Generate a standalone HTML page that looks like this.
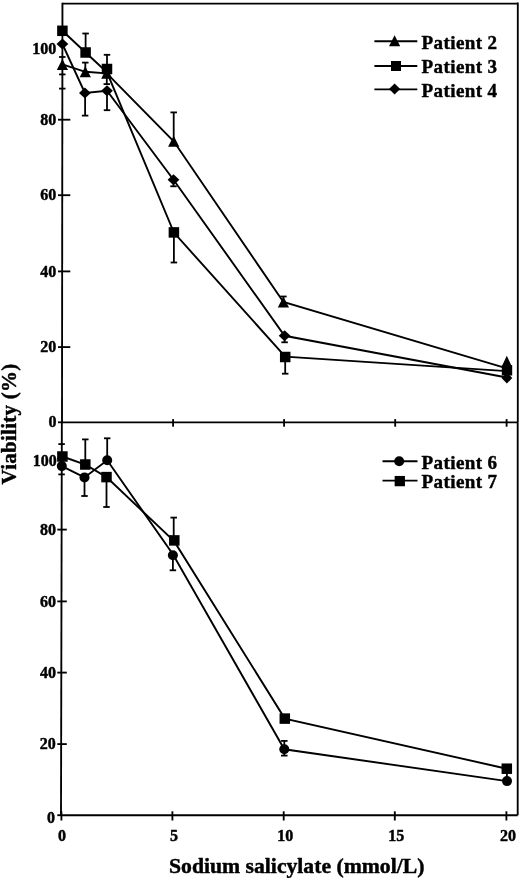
<!DOCTYPE html>
<html><head><meta charset="utf-8"><title>Viability chart</title>
<style>
html,body{margin:0;padding:0;background:#fff;}
body{width:520px;height:880px;overflow:hidden;}
svg{display:block;filter:grayscale(1) blur(0.3px);}
text{font-family:"Liberation Serif", serif;font-weight:bold;fill:#000;stroke:#000;stroke-width:0.45px;stroke-linejoin:round;}
</style></head>
<body>
<svg width="520" height="880" viewBox="0 0 520 880">
<g stroke="#000" fill="#000" stroke-linecap="butt">
<line x1="62.3" y1="3.6" x2="517.8" y2="3.6" stroke-width="1.85"/>
<line x1="62.45" y1="2.7" x2="62.0" y2="423.3" stroke-width="1.85"/>
<line x1="517.8" y1="2.6" x2="517.8" y2="422.3" stroke-width="1.85"/>
<line x1="62.3" y1="422.3" x2="517.8" y2="422.3" stroke-width="1.85"/>
<line x1="58.0" y1="422.3" x2="62.3" y2="422.3" stroke-width="1.85"/>
<line x1="58.0" y1="347.1" x2="70.3" y2="347.1" stroke-width="1.85"/>
<line x1="58.0" y1="271.4" x2="70.3" y2="271.4" stroke-width="1.85"/>
<line x1="58.0" y1="195.2" x2="70.3" y2="195.2" stroke-width="1.85"/>
<line x1="58.0" y1="119.7" x2="70.3" y2="119.7" stroke-width="1.85"/>
<line x1="173.1" y1="419.1" x2="173.1" y2="426.7" stroke-width="1.85"/>
<line x1="284.1" y1="419.1" x2="284.1" y2="426.7" stroke-width="1.85"/>
<line x1="395.2" y1="419.1" x2="395.2" y2="426.7" stroke-width="1.85"/>
<line x1="506.6" y1="419.1" x2="506.6" y2="426.7" stroke-width="1.85"/>
<polyline points="62.4,30.8 85.6,52.5 107.0,72.3 173.9,232.6 285.2,356.6 506.8,371.1" fill="none" stroke-width="1.9"/>
<polyline points="62.4,64.4 85.3,71.8 106.8,73.3 173.7,141.3 283.4,302.0 506.8,368.3" fill="none" stroke-width="1.9"/>
<polyline points="62.4,44.0 84.9,92.9 107.0,90.7 173.5,179.7 284.6,335.8 506.8,377.5" fill="none" stroke-width="1.9"/>
<line x1="85.6" y1="52.5" x2="85.6" y2="33.5" stroke-width="1.8"/>
<line x1="82.35" y1="33.5" x2="88.85" y2="33.5" stroke-width="1.8"/>
<line x1="107.0" y1="69.0" x2="107.0" y2="54.8" stroke-width="1.8"/>
<line x1="103.75" y1="54.8" x2="110.25" y2="54.8" stroke-width="1.8"/>
<line x1="173.9" y1="232.4" x2="173.9" y2="262.5" stroke-width="1.8"/>
<line x1="170.65" y1="262.5" x2="177.15" y2="262.5" stroke-width="1.8"/>
<line x1="285.2" y1="357.0" x2="285.2" y2="373.7" stroke-width="1.8"/>
<line x1="281.95" y1="373.7" x2="288.45" y2="373.7" stroke-width="1.8"/>
<line x1="85.3" y1="71.8" x2="85.3" y2="62.6" stroke-width="1.8"/>
<line x1="82.05" y1="62.6" x2="88.55" y2="62.6" stroke-width="1.8"/>
<line x1="106.8" y1="73.3" x2="106.8" y2="84.1" stroke-width="1.8"/>
<line x1="103.55" y1="84.1" x2="110.05" y2="84.1" stroke-width="1.8"/>
<line x1="173.7" y1="141.3" x2="173.7" y2="112.4" stroke-width="1.8"/>
<line x1="170.45" y1="112.4" x2="176.95" y2="112.4" stroke-width="1.8"/>
<line x1="283.4" y1="302.2" x2="283.4" y2="296.5" stroke-width="1.8"/>
<line x1="280.15" y1="296.5" x2="286.65" y2="296.5" stroke-width="1.8"/>
<line x1="85.1" y1="92.9" x2="85.1" y2="115.6" stroke-width="1.8"/>
<line x1="81.85" y1="115.6" x2="88.35" y2="115.6" stroke-width="1.8"/>
<line x1="107.0" y1="90.7" x2="107.0" y2="110.2" stroke-width="1.8"/>
<line x1="103.75" y1="110.2" x2="110.25" y2="110.2" stroke-width="1.8"/>
<line x1="173.5" y1="179.7" x2="173.5" y2="186.3" stroke-width="1.8"/>
<line x1="170.25" y1="186.3" x2="176.75" y2="186.3" stroke-width="1.8"/>
<line x1="284.6" y1="335.4" x2="284.6" y2="342.3" stroke-width="1.8"/>
<line x1="281.35" y1="342.3" x2="287.85" y2="342.3" stroke-width="1.8"/>
<line x1="59.05" y1="57.0" x2="65.55" y2="57.0" stroke-width="1.8"/>
<line x1="59.05" y1="74.4" x2="65.55" y2="74.4" stroke-width="1.8"/>
<line x1="59.05" y1="88.6" x2="65.55" y2="88.6" stroke-width="1.8"/>
<rect x="57.15" y="25.55" width="10.5" height="10.5" stroke="none"/>
<rect x="80.35" y="47.25" width="10.5" height="10.5" stroke="none"/>
<rect x="101.75" y="63.75" width="10.5" height="10.5" stroke="none"/>
<rect x="168.65" y="227.15" width="10.5" height="10.5" stroke="none"/>
<rect x="279.95" y="351.75" width="10.5" height="10.5" stroke="none"/>
<polygon points="62.40,58.90 68.00,69.90 56.80,69.90" stroke="none"/>
<polygon points="85.30,66.30 90.90,77.30 79.70,77.30" stroke="none"/>
<polygon points="106.80,67.80 112.40,78.80 101.20,78.80" stroke="none"/>
<polygon points="173.70,135.80 179.30,146.80 168.10,146.80" stroke="none"/>
<polygon points="283.40,296.50 289.00,307.50 277.80,307.50" stroke="none"/>
<polygon points="62.40,38.50 68.30,44.00 62.40,49.50 56.50,44.00" stroke="none"/>
<polygon points="84.90,87.40 90.80,92.90 84.90,98.40 79.00,92.90" stroke="none"/>
<polygon points="107.00,85.20 112.90,90.70 107.00,96.20 101.10,90.70" stroke="none"/>
<polygon points="173.50,174.20 179.40,179.70 173.50,185.20 167.60,179.70" stroke="none"/>
<polygon points="284.60,330.30 290.50,335.80 284.60,341.30 278.70,335.80" stroke="none"/>
<polygon points="506.80,355.80 512.10,367.00 501.50,367.00" stroke="none"/>
<rect x="501.80" y="365.10" width="10.4" height="10.4" stroke="none"/>
<polygon points="506.90,372.50 512.30,378.00 506.90,383.50 501.50,378.00" stroke="none"/>
<line x1="374.4" y1="41.2" x2="417.3" y2="41.2" stroke-width="1.9"/>
<polygon points="394.60,35.25 400.20,46.15 389.00,46.15" stroke="none"/>
<line x1="374.4" y1="66.0" x2="417.3" y2="66.0" stroke-width="1.9"/>
<rect x="391.00" y="61.00" width="10.0" height="10.0" stroke="none"/>
<line x1="374.4" y1="89.4" x2="417.3" y2="89.4" stroke-width="1.9"/>
<polygon points="394.60,83.60 400.20,89.10 394.60,94.60 389.00,89.10" stroke="none"/>
<line x1="61.85" y1="422.3" x2="61.0" y2="816.1" stroke-width="1.85"/>
<line x1="517.7" y1="422.3" x2="517.7" y2="815.2" stroke-width="1.85"/>
<line x1="61.4" y1="815.2" x2="517.7" y2="815.2" stroke-width="1.85"/>
<line x1="57.3" y1="815.2" x2="61.4" y2="815.2" stroke-width="1.85"/>
<line x1="57.3" y1="744.1" x2="66.8" y2="744.1" stroke-width="1.85"/>
<line x1="57.3" y1="672.6" x2="66.8" y2="672.6" stroke-width="1.85"/>
<line x1="57.3" y1="601.4" x2="66.8" y2="601.4" stroke-width="1.85"/>
<line x1="57.3" y1="529.6" x2="66.8" y2="529.6" stroke-width="1.85"/>
<line x1="57.3" y1="458.5" x2="66.8" y2="458.5" stroke-width="1.85"/>
<line x1="61.4" y1="811.3" x2="61.4" y2="820.5" stroke-width="1.85"/>
<line x1="172.4" y1="811.3" x2="172.4" y2="820.5" stroke-width="1.85"/>
<line x1="283.7" y1="811.3" x2="283.7" y2="820.5" stroke-width="1.85"/>
<line x1="394.8" y1="811.3" x2="394.8" y2="820.5" stroke-width="1.85"/>
<line x1="506.4" y1="811.3" x2="506.4" y2="820.5" stroke-width="1.85"/>
<polyline points="62.4,456.5 85.3,464.5 106.5,477.1 174.3,541.4 284.8,718.6 506.8,768.7" fill="none" stroke-width="1.9"/>
<polyline points="61.8,466.1 84.5,477.4 107.2,460.3 172.9,554.3 284.3,749.3 507.0,781.1" fill="none" stroke-width="1.9"/>
<line x1="85.3" y1="464.5" x2="85.3" y2="439.4" stroke-width="1.8"/>
<line x1="82.05" y1="439.4" x2="88.55" y2="439.4" stroke-width="1.8"/>
<line x1="106.5" y1="477.1" x2="106.5" y2="507.0" stroke-width="1.8"/>
<line x1="103.25" y1="507.0" x2="109.75" y2="507.0" stroke-width="1.8"/>
<line x1="173.7" y1="540.4" x2="173.7" y2="517.6" stroke-width="1.8"/>
<line x1="170.45" y1="517.6" x2="176.95" y2="517.6" stroke-width="1.8"/>
<line x1="84.5" y1="477.4" x2="84.5" y2="496.0" stroke-width="1.8"/>
<line x1="81.25" y1="496.0" x2="87.75" y2="496.0" stroke-width="1.8"/>
<line x1="107.2" y1="460.3" x2="107.2" y2="438.3" stroke-width="1.8"/>
<line x1="103.95" y1="438.3" x2="110.45" y2="438.3" stroke-width="1.8"/>
<line x1="172.9" y1="555.2" x2="172.9" y2="570.3" stroke-width="1.8"/>
<line x1="169.65" y1="570.3" x2="176.15" y2="570.3" stroke-width="1.8"/>
<line x1="284.3" y1="749.3" x2="284.3" y2="740.9" stroke-width="1.8"/>
<line x1="281.05" y1="740.9" x2="287.55" y2="740.9" stroke-width="1.8"/>
<line x1="284.3" y1="749.3" x2="284.3" y2="755.6" stroke-width="1.8"/>
<line x1="281.05" y1="755.6" x2="287.55" y2="755.6" stroke-width="1.8"/>
<line x1="58.35" y1="444.1" x2="64.85" y2="444.1" stroke-width="1.8"/>
<line x1="58.35" y1="474.4" x2="64.85" y2="474.4" stroke-width="1.8"/>
<line x1="506.9" y1="768.7" x2="506.9" y2="781.1" stroke-width="1.8"/>
<line x1="503.65" y1="781.1" x2="510.15" y2="781.1" stroke-width="1.8"/>
<rect x="57.15" y="451.25" width="10.5" height="10.5" stroke="none"/>
<rect x="80.05" y="459.25" width="10.5" height="10.5" stroke="none"/>
<rect x="101.25" y="471.85" width="10.5" height="10.5" stroke="none"/>
<rect x="169.05" y="535.15" width="10.5" height="10.5" stroke="none"/>
<rect x="279.55" y="713.35" width="10.5" height="10.5" stroke="none"/>
<rect x="501.55" y="763.45" width="10.5" height="10.5" stroke="none"/>
<circle cx="61.8" cy="466.1" r="5.0" stroke="none"/>
<circle cx="84.5" cy="477.4" r="5.0" stroke="none"/>
<circle cx="107.2" cy="460.3" r="5.0" stroke="none"/>
<circle cx="172.9" cy="555.2" r="5.0" stroke="none"/>
<circle cx="284.3" cy="749.3" r="5.0" stroke="none"/>
<circle cx="507.0" cy="781.1" r="5.0" stroke="none"/>
<line x1="382.5" y1="461.2" x2="417.5" y2="461.2" stroke-width="1.9"/>
<circle cx="399.2" cy="461.2" r="5.0" stroke="none"/>
<line x1="382.5" y1="480.6" x2="417.5" y2="480.6" stroke-width="1.9"/>
<rect x="394.65" y="475.95" width="10.3" height="10.3" stroke="none"/>
<text x="56.2" y="53.6" font-size="16" text-anchor="end" >100</text>
<text x="56.2" y="124.5" font-size="16" text-anchor="end" >80</text>
<text x="56.2" y="199.8" font-size="16" text-anchor="end" >60</text>
<text x="56.3" y="276.5" font-size="16" text-anchor="end" >40</text>
<text x="56.3" y="352.1" font-size="16" text-anchor="end" >20</text>
<text x="56.4" y="426.9" font-size="16" text-anchor="end" >0</text>
<text x="56.8" y="466.0" font-size="16" text-anchor="end" >100</text>
<text x="56.0" y="534.6" font-size="16" text-anchor="end" >80</text>
<text x="55.9" y="606.5" font-size="16" text-anchor="end" >60</text>
<text x="55.9" y="677.8" font-size="16" text-anchor="end" >40</text>
<text x="55.7" y="749.3" font-size="16" text-anchor="end" >20</text>
<text x="55.1" y="822.8" font-size="16" text-anchor="end" >0</text>
<text x="62.1" y="840.9" font-size="16" text-anchor="middle" >0</text>
<text x="173.9" y="840.9" font-size="16" text-anchor="middle" >5</text>
<text x="285.2" y="840.9" font-size="16" text-anchor="middle" >10</text>
<text x="396.3" y="840.9" font-size="16" text-anchor="middle" >15</text>
<text x="507.9" y="840.9" font-size="16" text-anchor="middle" >20</text>
<text x="421.6" y="49.2" font-size="19" text-anchor="start" letter-spacing="0.4">Patient 2</text>
<text x="421.6" y="73.4" font-size="19" text-anchor="start" letter-spacing="0.4">Patient 3</text>
<text x="421.6" y="97.3" font-size="19" text-anchor="start" letter-spacing="0.4">Patient 4</text>
<text x="421.6" y="469.0" font-size="19" text-anchor="start" letter-spacing="0.4">Patient 6</text>
<text x="421.6" y="488.4" font-size="19" text-anchor="start" letter-spacing="0.4">Patient 7</text>
<text x="169.0" y="872.5" font-size="21.7" text-anchor="start" >Sodium salicylate (mmol/L)</text>
<text x="0" y="0" font-size="21" letter-spacing="0.25" transform="translate(16.0,484.4) rotate(-90)">Viability (%)</text>
</g>
</svg>
</body></html>
